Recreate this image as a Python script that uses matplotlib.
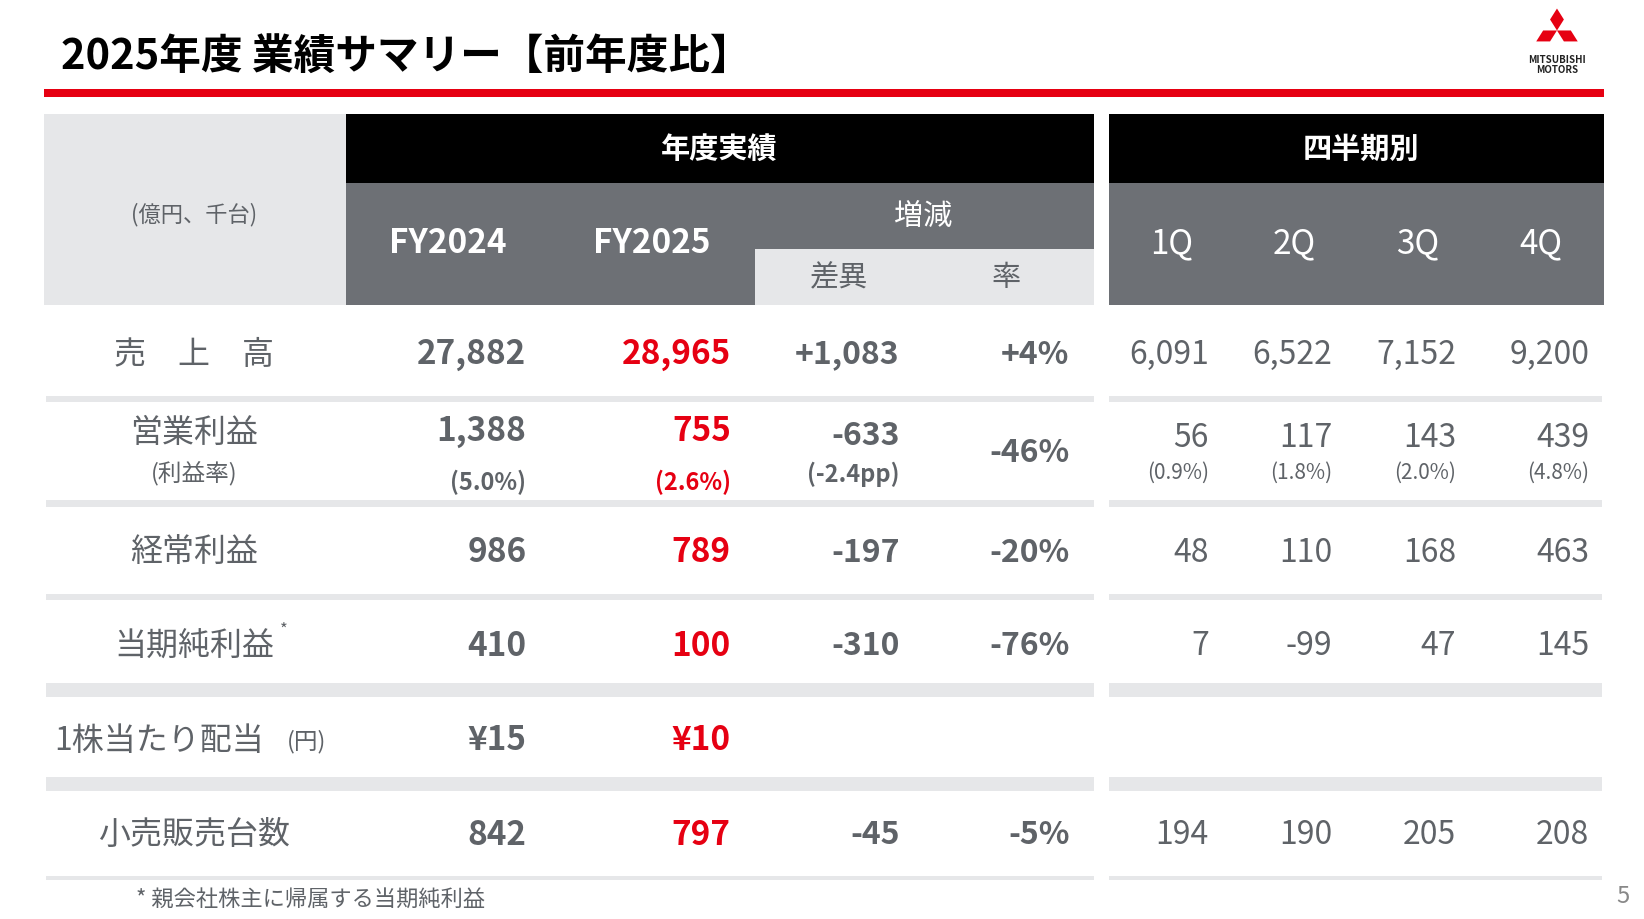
import matplotlib
matplotlib.use("Agg")
import matplotlib.pyplot as plt
from matplotlib.patches import Rectangle, Polygon

plt.rcParams['font.family'] = ['Noto Sans CJK JP', 'DejaVu Sans']

row_labels = ["売　上　高", "営業利益", "経常利益", "当期純利益", "1株当たり配当", "小売販売台数"]
fy2024 = ["27,882", "1,388", "986", "410", "¥15", "842"]
fy2025 = ["28,965", "755", "789", "100", "¥10", "797"]
diff = ["+1,083", "-633", "-197", "-310", "", "-45"]
rate = ["+4%", "-46%", "-20%", "-76%", "", "-5%"]
q_cols = ["1Q", "2Q", "3Q", "4Q"]
q_vals = [["6,091", "6,522", "7,152", "9,200"],
          ["56", "117", "143", "439"],
          ["48", "110", "168", "463"],
          ["7", "-99", "47", "145"],
          ["", "", "", ""],
          ["194", "190", "205", "208"]]
op_margin = ["(5.0%)", "(2.6%)", "(-2.4pp)"]
q_margin = ["(0.9%)", "(1.8%)", "(2.0%)", "(4.8%)"]

W, H = 1568, 877
fig = plt.figure(figsize=(16.44, 9.20), dpi=100)
ax = fig.add_axes([0, 0, 1, 1])
ax.set_xlim(0, W); ax.set_ylim(H, 0); ax.axis('off')

GRAY_T = '#5f6368'; RED = '#e60012'; LG = '#e6e7e9'; DG = '#6d7075'

def rect(x0, y0, x1, y1, c):
    ax.add_patch(Rectangle((x0, y0), x1 - x0, y1 - y0, color=c, lw=0))

def t(x, y, s, ha='center', size=21, color=GRAY_T, weight='normal'):
    ax.text(x, y, s, ha=ha, va='center', fontsize=size, color=color, fontweight=weight)

# title
t(58, 55, "2025年度 業績サマリー【前年度比】", ha='left', size=30, color='black', weight='bold')
rect(42, 86, 1530, 93, RED)
# logo
cx, cy = 1485, 30
s = 11
ax.add_patch(Polygon([(cx, cy - 2*s*0.95), (cx + s*0.6, cy - s*0.95), (cx, cy), (cx - s*0.6, cy - s*0.95)], color=RED, lw=0))
ax.add_patch(Polygon([(cx, cy), (cx + 1.2*s, cy), (cx + 1.8*s, cy + s*0.95), (cx + 0.6*s, cy + s*0.95)], color=RED, lw=0))
ax.add_patch(Polygon([(cx, cy), (cx - 1.2*s, cy), (cx - 1.8*s, cy + s*0.95), (cx - 0.6*s, cy + s*0.95)], color=RED, lw=0))
t(cx, 57, "MITSUBISHI", size=7, color='#222222', weight='bold')
t(cx, 67, "MOTORS", size=7, color='#222222', weight='bold')

# headers
rect(42, 110, 330, 292, LG)
t(185, 205, "(億円、千台)", size=16)
rect(330, 110, 1043, 175, 'black')
rect(330, 175, 1043, 292, DG)
rect(720, 238, 1043, 292, LG)
t(686, 142, "年度実績", size=21, color='white', weight='bold')
t(427, 232, "FY2024", size=24, color='white', weight='bold')
t(622, 232, "FY2025", size=24, color='white', weight='bold')
t(880, 207, "増減", size=21, color='white')
t(800, 265, "差異", size=21)
t(960, 265, "率", size=21)
rect(1058, 110, 1530, 175, 'black')
rect(1058, 175, 1530, 292, DG)
t(1298, 142, "四半期別", size=21, color='white', weight='bold')
qx = [1117, 1234, 1352, 1470]
for x, q in zip(qx, q_cols):
    t(x, 232, q, size=24, color='white')

# separators
seps = [(378, 384), (478, 484), (567, 573), (652, 665), (742, 755), (836, 840)]
for y0, y1 in seps:
    rect(44, y0, 1043, y1, LG)
    rect(1058, y0, 1528, y1, LG)

row_y = [338, 432, 527, 616, 706, 796]
qr = [1153, 1271, 1389, 1516]
LS, VS, QS = 23, 24, 23
for i, lab in enumerate(row_labels):
    y = row_y[i]
    if i == 1:
        t(185, 413, lab, size=LS)
        t(185, 451, "(利益率)", size=17)
        t(502, 411, fy2024[i], ha='right', size=VS, weight='bold')
        t(502, 460, op_margin[0], ha='right', size=17, weight='bold')
        t(697, 411, fy2025[i], ha='right', size=VS, color=RED, weight='bold')
        t(697, 460, op_margin[1], ha='right', size=17, color=RED, weight='bold')
        t(858, 416, diff[i], ha='right', size=QS, weight='bold')
        t(858, 452, op_margin[2], ha='right', size=17, weight='bold')
        t(1020, y, rate[i], ha='right', size=QS, weight='bold')
        for x, v, m in zip(qr, q_vals[i], q_margin):
            t(x, 418, v, ha='right', size=QS)
            t(x, 451, m, ha='right', size=15)
        continue
    if i == 3:
        t(185, y, lab, size=LS)
        t(271, 601, "*", size=12)
    elif i == 4:
        t(52, y, lab, ha='left', size=LS)
        t(274, y + 1, "(円)", ha='left', size=17)
    else:
        t(185, y, lab, size=LS)
    t(502, y, fy2024[i], ha='right', size=VS, weight='bold')
    t(697, y, fy2025[i], ha='right', size=VS, color=RED, weight='bold')
    t(858, y, diff[i], ha='right', size=QS, weight='bold')
    t(1020, y, rate[i], ha='right', size=QS, weight='bold')
    for x, v in zip(qr, q_vals[i]):
        t(x, y, v, ha='right', size=QS)

t(130, 857, "* 親会社株主に帰属する当期純利益", ha='left', size=16)
t(1548, 855, "5", size=17, color='#888888')

fig.savefig("out.png", dpi=100)
